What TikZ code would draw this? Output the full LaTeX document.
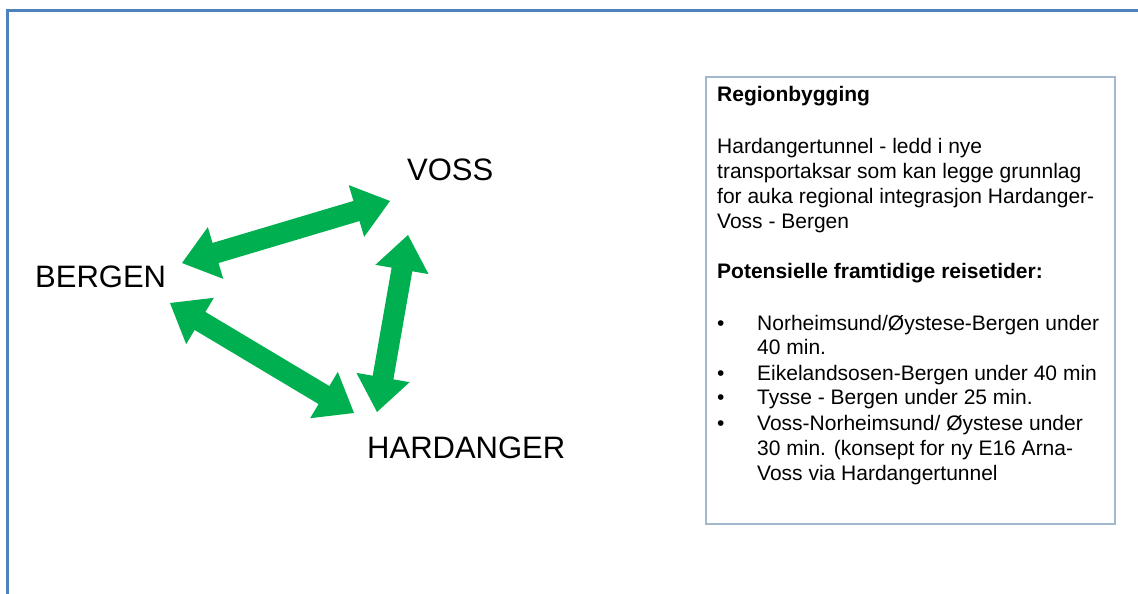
\documentclass[tikz,border=0pt]{standalone}
\usepackage{fontspec}
\setmainfont{Liberation Sans}
\usetikzlibrary{calc}
\definecolor{frameblue}{HTML}{4F81BD}
\definecolor{boxgray}{HTML}{A3B8CC}
\definecolor{agreen}{HTML}{00B050}
\tikzset{
  big/.style={anchor=base west, inner sep=0pt, font=\fontsize{31}{31}\selectfont, text=black},
  txt/.style={anchor=base west, inner sep=0pt, font=\fontsize{21}{25}\selectfont, text=black},
  bld/.style={anchor=base west, inner sep=0pt, font=\fontsize{21}{25}\selectfont\bfseries, text=black},
  bul/.style={anchor=base west, inner sep=0pt, font=\fontsize{21}{25}\selectfont, text=black}
}
\newcommand\dblarrow[2]{%
  \path ($(#1)!35pt!(#2)$) coordinate (h1) ($(#2)!35pt!(#1)$) coordinate (h2);
  \fill[agreen] (#1) -- ($(h1)!27pt!90:(#2)$) -- ($(h1)!10.5pt!90:(#2)$)
    -- ($(h2)!10.5pt!-90:(#1)$) -- ($(h2)!27pt!-90:(#1)$) -- (#2)
    -- ($(h2)!27pt!90:(#1)$) -- ($(h2)!10.5pt!90:(#1)$)
    -- ($(h1)!10.5pt!-90:(#2)$) -- ($(h1)!27pt!-90:(#2)$) -- cycle;}
\begin{document}
\begin{tikzpicture}[x=1pt,y=-1pt]
\useasboundingbox (0,0) rectangle (1138,594);
\clip (0,0) rectangle (1138,594);
\fill[white] (0,0) rectangle (1138,594);
% outer frame
\draw[frameblue, line width=2.5pt] (7.5,600) -- (7.5,10.5) -- (1145,10.5);
% labels
\node[big] (bergen) at (35,287) {BERGEN};
\node[big] (voss) at (407,180) {VOSS};
\node[big] (hard) at (367,458) {HARDANGER};
% arrows
\coordinate (bv1) at (182,263); \coordinate (bv2) at (390,201);
\coordinate (vh1) at (408,235); \coordinate (vh2) at (377,412);
\coordinate (bh1) at (170,303); \coordinate (bh2) at (354,413);
\dblarrow{bv1}{bv2}
\dblarrow{vh1}{vh2}
\dblarrow{bh1}{bh2}
% text box
\draw[boxgray, line width=2pt] (706,77) rectangle (1115,524);
\node[bld] (t0) at (717,102) {Regionbygging};
\node[txt] (t1) at (717,153) {Hardangertunnel - ledd i nye};
\node[txt] (t2) at (717,178) {transportaksar som kan legge grunnlag};
\node[txt] (t3) at (717,203) {for auka regional integrasjon Hardanger-};
\node[txt] (t4) at (717,228) {Voss - Bergen};
\node[bld] (t5) at (717,278) {Potensielle framtidige reisetider:};
\node[bul] (b1) at (717,330) {•};
\node[txt] (l1) at (757,330) {Norheimsund/Øystese-Bergen under};
\node[txt] (l1b) at (757,354) {40 min.};
\node[bul] (b2) at (717,380) {•};
\node[txt] (l2) at (757,380) {Eikelandsosen-Bergen under 40 min};
\node[bul] (b3) at (717,404) {•};
\node[txt] (l3) at (757,404) {Tysse - Bergen under 25 min.};
\node[bul] (b4) at (717,430) {•};
\node[txt] (l4) at (757,430) {Voss-Norheimsund/ Øystese under};
\node[txt] (l4b) at (757,455) {30 min. (konsept for ny E16 Arna-};
\node[txt] (l4c) at (757,480) {Voss via Hardangertunnel};
\end{tikzpicture}
\end{document}
